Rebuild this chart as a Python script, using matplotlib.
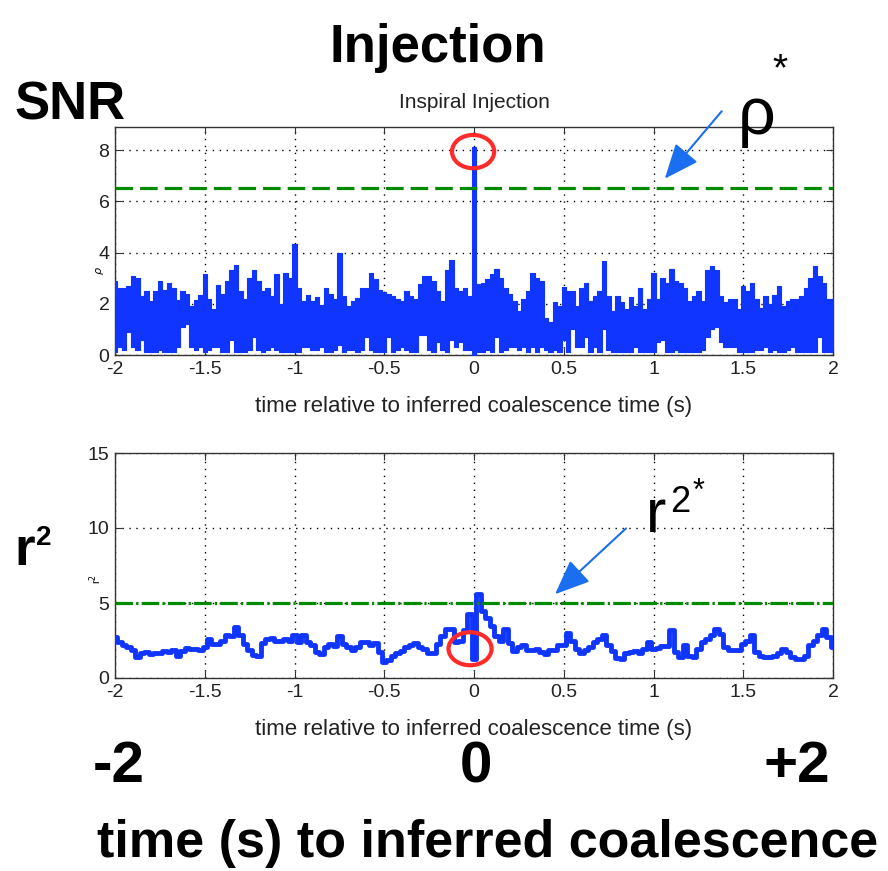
import numpy as np
import matplotlib
matplotlib.use('Agg')
import matplotlib.pyplot as plt
from matplotlib.patches import Ellipse

plt.rcParams['font.family'] = ['Liberation Sans', 'DejaVu Sans']

# time grid, 0.025 s per sample
t = np.linspace(-2, 2, 161)

# SNR: top and bottom of each noisy column
snr_hi = [2.9, 2.6, 2.6, 2.7, 3.1, 3.0, 2.3, 2.5, 2.1, 2.5,
          2.9, 2.55, 2.8, 2.6, 2.15, 2.5, 2.4, 1.9, 2.15, 2.35,
          3.15, 2.2, 1.8, 2.75, 2.4, 2.9, 3.3, 3.5, 2.5, 2.2,
          3.0, 3.3, 2.9, 2.5, 2.6, 2.3, 3.15, 2.0, 3.2, 3.0,
          4.35, 2.6, 2.1, 2.35, 2.1, 2.25, 1.95, 2.6, 2.4, 2.2,
          4.0, 2.3, 1.9, 2.1, 2.24, 2.63, 2.6, 3.2, 2.95, 2.55,
          2.45, 2.37, 2.3, 2.2, 2.1, 2.5, 2.3, 2.2, 2.76, 3.1,
          3.1, 2.9, 2.5, 2.1, 3.3, 3.7, 2.6, 2.5, 2.6, 2.3,
          8.1, 2.76, 2.8, 2.95, 3.15, 3.35, 3.0, 2.6, 2.4, 2.1,
          1.7, 2.2, 2.5, 3.2, 3.0, 2.9, 1.45, 1.3, 2.05, 1.9,
          2.65, 2.5, 2.5, 1.9, 2.6, 2.8, 2.1, 2.3, 2.5, 3.67,
          2.3, 1.7, 2.3, 2.05, 1.8, 2.25, 1.9, 2.6, 1.8, 2.2,
          3.2, 2.2, 3.0, 2.8, 3.35, 2.9, 2.8, 2.6, 2.1, 2.3,
          2.5, 2.1, 3.3, 3.48, 3.3, 2.3, 2.05, 2.2, 2.2, 1.8,
          2.7, 2.5, 2.8, 2.2, 1.85, 2.3, 2.0, 2.35, 2.7, 1.9,
          2.1, 2.2, 2.2, 2.3, 2.6, 3.0, 3.48, 3.1, 2.8, 2.2,
          2.2]
snr_lo = [0.1, 0.3, 0.2, 0.9, 0.3, 0.2, 0.6, 0.1, 0.1, 0.1,
          0.2, 0.1, 0.1, 0.1, 0.3, 1.1, 1.2, 0.3, 0.2, 0.3,
          0.1, 0.2, 0.3, 0.3, 0.1, 0.1, 0.6, 0.1, 0.1, 0.1,
          0.2, 0.7, 0.2, 0.1, 0.2, 0.3, 0.2, 0.1, 0.1, 0.1,
          0.1, 0.1, 0.3, 0.3, 0.2, 0.2, 0.3, 0.1, 0.1, 0.2,
          0.4, 0.1, 0.2, 0.2, 0.1, 0.2, 0.7, 0.2, 0.1, 0.1,
          0.1, 0.7, 0.1, 0.2, 0.3, 0.2, 0.1, 0.1, 0.8, 0.8,
          0.2, 0.1, 0.5, 0.2, 0.1, 0.6, 0.3, 0.5, 0.2, 0.2,
          0.0, 0.1, 0.1, 0.2, 0.1, 0.7, 0.1, 0.2, 0.3, 0.3,
          0.2, 0.3, 0.1, 0.3, 0.1, 0.3, 0.2, 0.1, 0.2, 0.1,
          0.6, 0.1, 1.0, 0.3, 0.3, 0.7, 0.1, 0.3, 0.1, 1.0,
          0.2, 0.1, 0.1, 0.1, 0.1, 0.1, 0.3, 0.1, 0.1, 0.1,
          0.1, 0.5, 0.6, 0.1, 0.1, 0.2, 0.1, 0.1, 0.1, 0.1,
          0.1, 0.2, 0.7, 1.0, 1.1, 0.5, 0.3, 0.3, 0.3, 0.1,
          0.1, 0.1, 0.1, 0.2, 0.2, 0.3, 0.1, 0.2, 0.1, 0.1,
          0.2, 0.3, 0.1, 0.1, 0.1, 0.1, 0.1, 0.7, 0.1, 0.1,
          0.1]

# chi-square like r^2 trace
r2 = [2.75, 2.4, 2.2, 2.05, 1.85, 1.4, 1.7, 1.75, 1.6, 1.65,
      1.7, 1.8, 1.75, 1.85, 1.5, 1.8, 2.0, 1.95, 1.95, 1.9,
      2.05, 2.6, 2.25, 2.3, 2.5, 2.9, 2.8, 3.4, 2.85, 2.25,
      1.85, 1.55, 1.5, 2.35, 2.6, 2.7, 2.45, 2.45, 2.6, 2.5,
      2.85, 2.4, 2.85, 2.4, 2.2, 1.75, 1.6, 2.05, 2.3, 2.15,
      2.8, 2.3, 2.05, 1.9, 2.1, 2.4, 2.4, 2.2, 2.35, 1.75,
      1.05, 1.2, 1.45, 1.65, 1.8, 2.05, 2.2, 2.35, 2.1, 1.95,
      1.65, 1.65, 2.3, 2.8, 3.25, 3.3, 2.4, 2.5, 3.2, 4.25,
      1.3, 5.6, 4.45, 4.0, 3.5, 2.8, 2.5, 3.25, 2.35, 1.8,
      2.05, 2.2, 1.85, 1.85, 1.95, 1.75, 1.6, 1.85, 1.85, 2.2,
      2.2, 3.0, 2.5, 1.95, 1.7, 1.85, 2.1, 2.4, 2.6, 2.9,
      2.2, 1.8, 1.35, 1.25, 1.65, 1.75, 1.8, 1.65, 1.95, 2.4,
      1.95, 2.0, 2.15, 2.15, 3.2, 1.75, 1.4, 2.2, 1.5, 1.4,
      1.95, 2.4, 2.6, 2.9, 3.3, 2.95, 2.1, 1.85, 1.9, 1.85,
      2.3, 2.5, 2.9, 1.75, 1.5, 1.4, 1.4, 1.5, 1.65, 1.95,
      1.75, 1.4, 1.3, 1.3, 1.5, 2.2, 2.5, 2.85, 3.3, 2.75,
      2.05]

rho_thresh = 6.5
r2_thresh = 5.0
xticks = [-2, -1.5, -1, -0.5, 0, 0.5, 1, 1.5, 2]
xticklabels = ['-2', '-1.5', '-1', '-0.5', '0', '0.5', '1', '1.5', '2']

blue = '#0f35ff'
green = '#008a00'
arrowblue = '#1a6ef0'
red = '#ff2a2a'
W, H = 888, 871

def fx(px):
    return px / W

def fy(py):
    return 1 - py / H

def style(ax):
    ax.set_xlim(-2, 2)
    ax.set_xticks(xticks)
    ax.set_xticklabels(xticklabels)
    ax.tick_params(direction='in', top=True, right=True, length=5, pad=4,
                   labelsize=14, color='#333333', labelcolor='#222222')
    ax.grid(True, color='k', linestyle=(0, (1, 4)), linewidth=1.0)
    for s in ax.spines.values():
        s.set_color('#333333')
        s.set_linewidth(1.0)
    ax.set_xlabel('time relative to inferred coalescence time (s)', fontsize=16,
                  color='#222222', labelpad=13)

fig = plt.figure(figsize=(W / 100, H / 100), dpi=100)

ax1 = fig.add_axes([fx(115), fy(355), fx(833) - fx(115), fy(127) - fy(355)])
ax1.fill_between(t, snr_lo, snr_hi, step='mid', color=blue, linewidth=0.8,
                 edgecolor=blue, zorder=3)
ax1.axhline(rho_thresh, color=green, linewidth=2.3, linestyle=(0, (5.5, 2.2)), zorder=4)
ax1.set_ylim(0, 8.9)
ax1.set_yticks([0, 2, 4, 6, 8])
style(ax1)
ax1.set_ylabel(r'$\rho$', fontsize=8)
ax1.yaxis.set_label_coords(-0.012, 0.37)
ax1.add_patch(Ellipse((-0.005, 7.94), 0.235, 1.3, fill=False, edgecolor=red,
                      linewidth=3, zorder=5, clip_on=False))
ax1.annotate('', xy=(1.053, 6.8), xytext=(1.39, 9.6), annotation_clip=False,
             arrowprops=dict(arrowstyle='-|>,head_length=1.8,head_width=0.75',
                             color=arrowblue, lw=1.5, mutation_scale=12))

ax2 = fig.add_axes([fx(115), fy(678), fx(833) - fx(115), fy(453) - fy(678)])
ax2.plot(t, r2, color=blue, linewidth=3.5, drawstyle='steps-mid', zorder=3)
ax2.axhline(r2_thresh, color=green, linewidth=2.3, linestyle=(0, (5.5, 1, 0.7, 1)), zorder=4)
ax2.set_ylim(0, 15)
ax2.set_yticks([0, 5, 10, 15])
style(ax2)
ax2.set_ylabel(r'r$^2$', fontsize=8)
ax2.yaxis.set_label_coords(-0.015, 0.44)
ax2.add_patch(Ellipse((-0.022, 1.95), 0.24, 2.2, fill=False, edgecolor=red,
                      linewidth=3, zorder=5, clip_on=False))
ax2.annotate('', xy=(0.44, 5.46), xytext=(0.858, 10.1), annotation_clip=False,
             arrowprops=dict(arrowstyle='-|>,head_length=1.8,head_width=0.75',
                             color=arrowblue, lw=1.5, mutation_scale=12))

# slide overlay text
fig.text(fx(474), fy(108), 'Inspiral Injection', ha='center', va='baseline',
         fontsize=15, color='#222222')
fig.text(fx(438), fy(62), 'Injection', ha='center', va='baseline',
         fontsize=38, fontweight='bold')
fig.text(fx(14), fy(120), 'SNR', ha='left', va='baseline',
         fontsize=38, fontweight='bold')
fig.text(fx(738), fy(134), '\u03c1', ha='left', va='baseline', fontsize=48)
fig.text(fx(772), fy(80), '*', ha='left', va='baseline', fontsize=28)
fig.text(fx(646), fy(532), 'r', ha='left', va='baseline', fontsize=44)
fig.text(fx(670), fy(512), '2', ha='left', va='baseline', fontsize=26)
fig.text(fx(693), fy(500), '*', ha='left', va='baseline', fontsize=22)
fig.text(fx(14), fy(565), 'r', ha='left', va='baseline', fontsize=38, fontweight='bold')
fig.text(fx(36), fy(545), '2', ha='left', va='baseline', fontsize=20, fontweight='bold')
fig.text(fx(93), fy(782), '-2', ha='left', va='baseline', fontsize=42, fontweight='bold')
fig.text(fx(476), fy(782), '0', ha='center', va='baseline', fontsize=42, fontweight='bold')
fig.text(fx(830), fy(782), '+2', ha='right', va='baseline', fontsize=42, fontweight='bold')
fig.text(fx(97), fy(857), 'time (s) to inferred coalescence', ha='left', va='baseline',
         fontsize=37.5, fontweight='bold')

fig.savefig('out.png', dpi=100)
